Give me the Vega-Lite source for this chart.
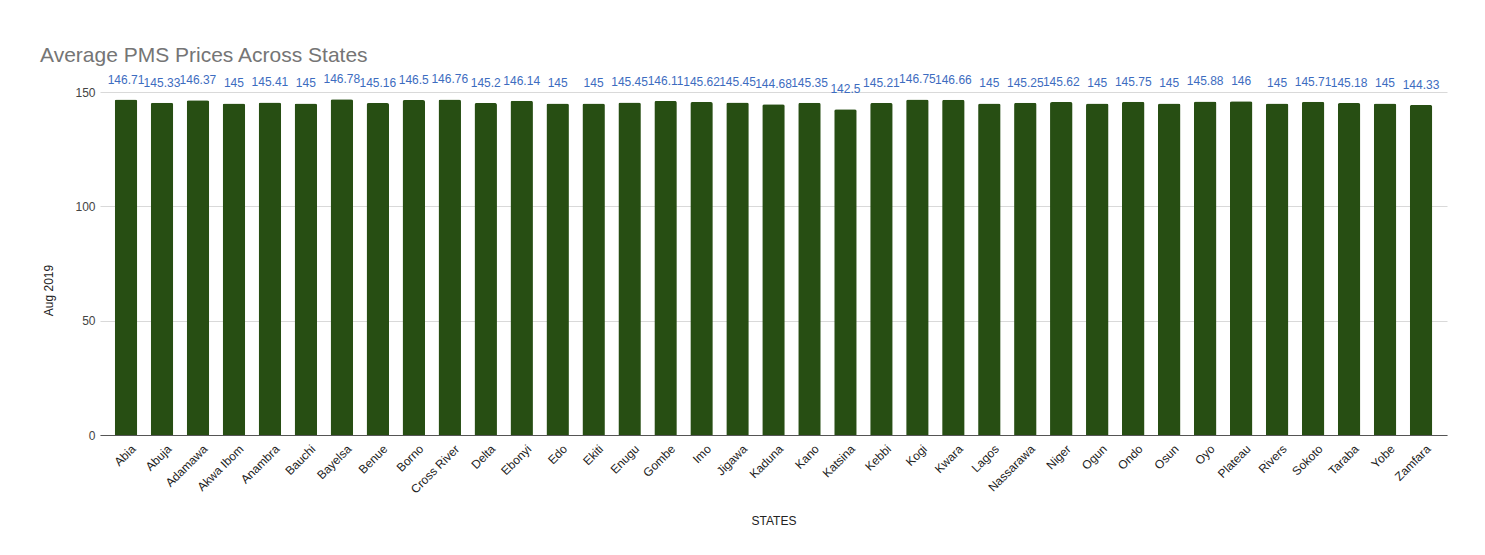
{
  "$schema": "https://vega.github.io/schema/vega-lite/v6.json",
  "width": 1347,
  "height": 343,
  "autosize": {"type": "none"},
  "padding": {"left": 100, "top": 92, "right": 38, "bottom": 120},
  "background": "white",
  "title": {
    "text": "Average PMS Prices Across States",
    "anchor": "start",
    "frame": "group",
    "dx": -60,
    "offset": 7,
    "font": "Liberation Sans",
    "fontSize": 21,
    "fontWeight": "normal",
    "color": "#757575"
  },
  "data": {
    "values": [
      {"state": "Abia", "price": 146.71},
      {"state": "Abuja", "price": 145.33},
      {"state": "Adamawa", "price": 146.37},
      {"state": "Akwa Ibom", "price": 145},
      {"state": "Anambra", "price": 145.41},
      {"state": "Bauchi", "price": 145},
      {"state": "Bayelsa", "price": 146.78},
      {"state": "Benue", "price": 145.16},
      {"state": "Borno", "price": 146.5},
      {"state": "Cross River", "price": 146.76},
      {"state": "Delta", "price": 145.2},
      {"state": "Ebonyi", "price": 146.14},
      {"state": "Edo", "price": 145},
      {"state": "Ekiti", "price": 145},
      {"state": "Enugu", "price": 145.45},
      {"state": "Gombe", "price": 146.11},
      {"state": "Imo", "price": 145.62},
      {"state": "Jigawa", "price": 145.45},
      {"state": "Kaduna", "price": 144.68},
      {"state": "Kano", "price": 145.35},
      {"state": "Katsina", "price": 142.5},
      {"state": "Kebbi", "price": 145.21},
      {"state": "Kogi", "price": 146.75},
      {"state": "Kwara", "price": 146.66},
      {"state": "Lagos", "price": 145},
      {"state": "Nassarawa", "price": 145.25},
      {"state": "Niger", "price": 145.62},
      {"state": "Ogun", "price": 145},
      {"state": "Ondo", "price": 145.75},
      {"state": "Osun", "price": 145},
      {"state": "Oyo", "price": 145.88},
      {"state": "Plateau", "price": 146},
      {"state": "Rivers", "price": 145},
      {"state": "Sokoto", "price": 145.71},
      {"state": "Taraba", "price": 145.18},
      {"state": "Yobe", "price": 145},
      {"state": "Zamfara", "price": 144.33}
    ]
  },
  "encoding": {
    "x": {
      "field": "state",
      "type": "nominal",
      "sort": null,
      "scale": {"paddingInner": 0.375, "paddingOuter": 0.41},
      "axis": {
        "title": "STATES",
        "titleFont": "Liberation Sans",
        "titleFontSize": 12,
        "titleFontWeight": "normal",
        "titleColor": "#222",
        "titleY": 85,
        "titleBaseline": "middle",
        "labelAngle": -45,
        "labelFont": "Liberation Sans",
        "labelFontSize": 12,
        "labelColor": "#222",
        "labelPadding": 8,
        "labelOffset": 4,
        "ticks": false,
        "domainColor": "#555",
        "grid": false
      }
    },
    "y": {
      "field": "price",
      "type": "quantitative",
      "scale": {"domain": [0, 150], "nice": false},
      "axis": {
        "title": "Aug 2019",
        "titleFont": "Liberation Sans",
        "titleFontSize": 12,
        "titleFontWeight": "normal",
        "titleColor": "#222",
        "titleX": -52,
        "titleY": 198,
        "titleAngle": -90,
        "titleAlign": "center",
        "titleBaseline": "middle",
        "values": [0, 50, 100, 150],
        "labelFont": "Liberation Sans",
        "labelFontSize": 12,
        "labelColor": "#444",
        "labelPadding": 5,
        "ticks": false,
        "domain": false,
        "gridColor": "#d9d9d9"
      }
    }
  },
  "layer": [
    {
      "mark": {"type": "bar", "color": "#274e13", "cornerRadiusEnd": 2}
    },
    {
      "mark": {
        "type": "text",
        "baseline": "middle",
        "dy": -20,
        "font": "Liberation Sans",
        "fontSize": 12,
        "color": "#3d6cc0"
      },
      "encoding": {"text": {"field": "price", "type": "quantitative"}}
    }
  ],
  "config": {"view": {"stroke": null}}
}
